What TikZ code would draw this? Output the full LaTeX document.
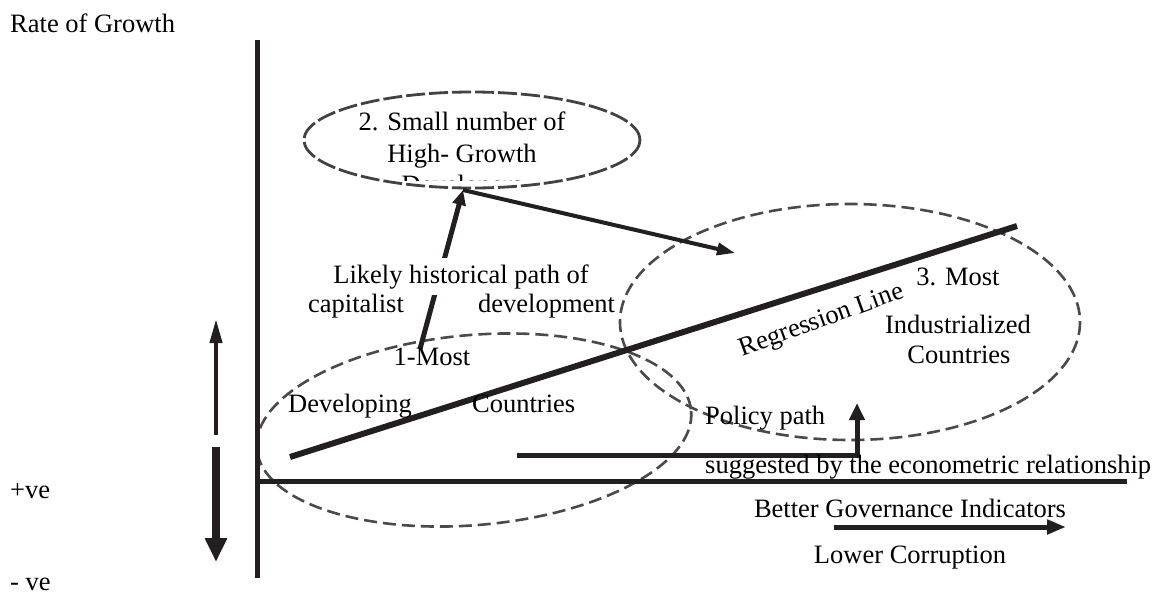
\documentclass[tikz,border=0pt]{standalone}
\usepackage{fontspec}
\setmainfont{Liberation Serif}
\usetikzlibrary{arrows.meta}
\definecolor{ink}{HTML}{231F20}
\definecolor{dashgray}{HTML}{4A4A4A}
\begin{document}
\begin{tikzpicture}[x=1pt,y=-1pt,
  lbl/.style={font=\fontsize{26.5}{30}\selectfont, inner sep=0pt, text=black},
  axisline/.style={line width=5pt, draw=ink},
  dashell/.style={draw=dashgray, line width=2.6pt, dash pattern=on 13pt off 6pt},
  dashelltop/.style={draw=ink!85, line width=2.8pt, dash pattern=on 19pt off 4pt},
  arr/.style={draw=ink, line width=#1},
]
\useasboundingbox (0,0) rectangle (1157,595);

% ellipses
\draw[dashelltop] (472,140) ellipse [x radius=168, y radius=48];
\draw[dashell] (474,430) ellipse [x radius=218, y radius=95, rotate=5];
\draw[dashell] (850,322) ellipse [x radius=230, y radius=118];

% axes
\coordinate (vtop) at (257,40);
\coordinate (vbot) at (257,578);
\coordinate (origin) at (255,481);
\coordinate (hend) at (1127,481);
\draw[axisline] (vtop) -- (vbot);
\draw[axisline] (origin) -- (hend);

% left sign arrows
\coordinate (ua1) at (216,435);
\coordinate (ua2) at (216,319);
\coordinate (da1) at (216,447);
\coordinate (da2) at (216,562);
\draw[arr=4pt, -{Triangle[length=24pt,width=12pt]}] (ua1) -- (ua2);
\draw[arr=8pt, -{Triangle[length=24pt,width=21pt]}] (da1) -- (da2);

% regression line
\coordinate (r1) at (290,457);
\coordinate (r2) at (1017,226);
\draw[arr=6pt] (r1) -- (r2);

% historical path arrows
\coordinate (h1) at (420,349);
\coordinate (h2) at (463,190);
\coordinate (h3) at (735,253);
\draw[arr=5pt, -{Triangle[length=15pt,width=13pt]}] (h1) -- (h2);
\draw[arr=4pt, -{Triangle[length=18pt,width=12pt]}] (h2) -- (h3);

% policy path
\coordinate (p1) at (517,455);
\coordinate (p2) at (857,455);
\coordinate (p3) at (857,403);
\draw[arr=5pt, -{Triangle[length=17pt,width=15pt]}] (p1) -- (p2) -- (p3);

% governance arrow
\coordinate (g1) at (834,527);
\coordinate (g2) at (1066,527);
\draw[arr=5pt, -{Triangle[length=19pt,width=14pt]}] (g1) -- (g2);

% texts
\node[lbl, anchor=base west] (rog) at (10,32) {Rate of Growth};
\node[lbl, anchor=base west] (pve) at (10,498) {+ve};
\node[lbl, anchor=base west] (nve) at (10,590) {- ve};

\node[lbl, anchor=base] (t2a) at (462,130) {2. Small number of};
\node[lbl, anchor=base] (t2b) at (462,162) {High- Growth};
\begin{scope}
  \clip (300,150) rectangle (640,180.5);
  \node[lbl, anchor=base] (t2c) at (462,193) {Developers};
\end{scope}

\node[lbl, anchor=base, fill=white, inner xsep=2pt, inner ysep=6pt] (hist1) at (461,283) {Likely historical path of};
\node[lbl, anchor=base west] (hist2) at (308,312) {capitalist};
\node[lbl, anchor=base west] (hist3) at (478,312) {development};

\node[lbl, anchor=base] (t1a) at (432,365) {1-Most};
\node[lbl, anchor=base west] (t1b) at (288,412) {Developing};
\node[lbl, anchor=base west] (t1c) at (472,412) {Countries};

\node[lbl, anchor=base, rotate=20] (reg) at (824,327) {Regression Line};

\node[lbl, anchor=base] (t3a) at (958,285) {3. Most};
\node[lbl, anchor=base] (t3b) at (958,333) {Industrialized};
\node[lbl, anchor=base] (t3c) at (959,363) {Countries};

\node[lbl, anchor=base west] (pp1) at (705,424) {Policy path};
\node[lbl, anchor=base west] (pp2) at (705,473) {suggested by the econometric relationship};

\node[lbl, anchor=base] (bgi) at (910,517) {Better Governance Indicators};
\node[lbl, anchor=base] (lc) at (910,563) {Lower Corruption};
\end{tikzpicture}
\end{document}
